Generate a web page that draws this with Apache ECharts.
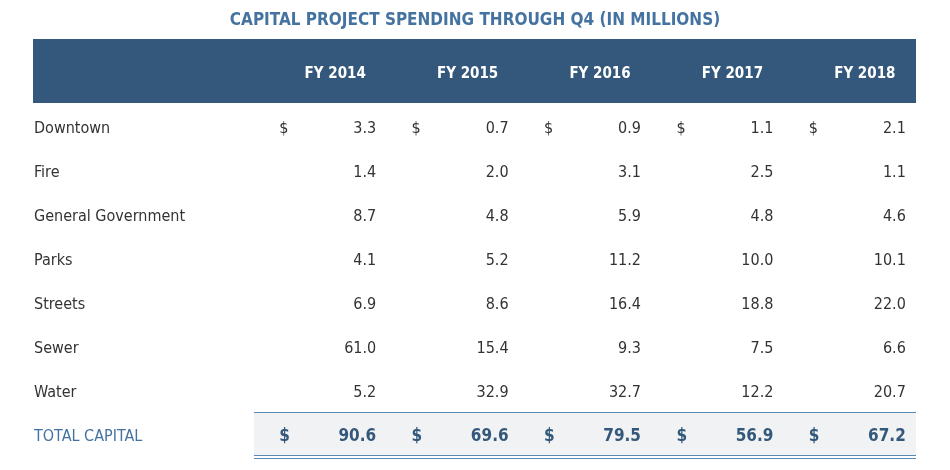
<!DOCTYPE html>
<html>
<head>
<meta charset="utf-8">
<script src="https://cdn.jsdelivr.net/npm/echarts@6/dist/echarts.min.js"></script>
<style>
html,body{margin:0;padding:0;background:#fff;}
#chart{width:950px;height:470px;}
</style>
</head>
<body>
<div id="chart"></div>
<script>
// ---- data ----
const years = ['FY 2014', 'FY 2015', 'FY 2016', 'FY 2017', 'FY 2018'];
const rowNames = ['Downtown', 'Fire', 'General Government', 'Parks', 'Streets', 'Sewer', 'Water', 'TOTAL CAPITAL'];
const downtown = [3.3, 0.7, 0.9, 1.1, 2.1];
const fire = [1.4, 2.0, 3.1, 2.5, 1.1];
const generalGovernment = [8.7, 4.8, 5.9, 4.8, 4.6];
const parks = [4.1, 5.2, 11.2, 10.0, 10.1];
const streets = [6.9, 8.6, 16.4, 18.8, 22.0];
const sewer = [61.0, 15.4, 9.3, 7.5, 6.6];
const water = [5.2, 32.9, 32.7, 12.2, 20.7];
const totalCapital = [90.6, 69.6, 79.5, 56.9, 67.2];
const dollarRows = ['Downtown', 'TOTAL CAPITAL'];

const table = [downtown, fire, generalGovernment, parks, streets, sewer, water, totalCapital];
const totalName = 'TOTAL CAPITAL';

const FONT = "'Liberation Sans Narrow', 'DejaVu Sans Condensed', 'Roboto Condensed', sans-serif";
const TEXT = '#333333';
const BLUE = '#34587b';
const BLUE_LIGHT = '#4473a1';

const chart = echarts.init(document.getElementById('chart'), null, {renderer: 'canvas'});

const totalLabel = {color: BLUE, fontWeight: 'bold', fontSize: 17};

const series = [];
years.forEach((y, i) => {
  series.push({
    type: 'scatter',
    symbolSize: 1,
    itemStyle: {color: 'rgba(0,0,0,0)', opacity: 1},
    silent: true,
    z: 5,
    data: rowNames.map((r, j) => ({
      value: [y, r, table[j][i]],
      label: r === totalName ? totalLabel : {}
    })),
    label: {
      show: true,
      position: 'inside',
      align: 'right',
      verticalAlign: 'middle',
      offset: [56, 0],
      fontFamily: FONT,
      fontSize: 16,
      color: TEXT,
      formatter: p => p.value[2].toFixed(1)
    }
  });
});
// dollar signs
series.push({
  type: 'scatter',
  symbolSize: 1,
  itemStyle: {color: 'rgba(0,0,0,0)', opacity: 1},
  silent: true,
  z: 5,
  data: years.flatMap(y => dollarRows.map(r => ({
    value: [y, r],
    label: r === totalName ? totalLabel : {}
  }))),
  label: {
    show: true,
    position: 'inside',
    align: 'left',
    verticalAlign: 'middle',
    offset: [-41, 0],
    fontFamily: FONT,
    fontSize: 16,
    color: TEXT,
    formatter: '$'
  }
});

const option = {
  animation: false,
  backgroundColor: '#ffffff',
  title: {
    text: 'CAPITAL PROJECT SPENDING THROUGH Q4 (IN MILLIONS)',
    left: 'center',
    top: 7,
    textStyle: {fontFamily: FONT, fontSize: 17, fontWeight: 'bold', color: BLUE_LIGHT}
  },
  graphic: [
    {type: 'rect', shape: {x: 33, y: 39, width: 883, height: 64}, style: {fill: '#34587b'}, z: -10},
    {type: 'rect', shape: {x: 254, y: 412, width: 662, height: 43}, style: {fill: '#f1f2f3'}, z: -10},
    {type: 'line', shape: {x1: 254, y1: 412.5, x2: 916, y2: 412.5}, style: {stroke: '#5b87b4', lineWidth: 1}, z: -5},
    {type: 'line', shape: {x1: 254, y1: 455.5, x2: 916, y2: 455.5}, style: {stroke: '#5b87b4', lineWidth: 1}, z: -5},
    {type: 'line', shape: {x1: 254, y1: 458.5, x2: 916, y2: 458.5}, style: {stroke: '#5b87b4', lineWidth: 1}, z: -5}
  ],
  grid: {left: 254, right: 34, top: 107, bottom: 11},
  xAxis: {
    type: 'category',
    data: years,
    position: 'top',
    axisLine: {show: false},
    axisTick: {show: false},
    splitLine: {show: false},
    axisLabel: {
      margin: 33,
      verticalAlign: 'middle',
      padding: [0, 0, 0, 30],
      color: '#ffffff',
      fontFamily: FONT,
      fontWeight: 'bold',
      fontSize: 15
    }
  },
  yAxis: {
    type: 'category',
    data: rowNames,
    inverse: true,
    axisLine: {show: false},
    axisTick: {show: false},
    splitLine: {show: false},
    axisLabel: {
      margin: 220,
      align: 'left',
      fontFamily: FONT,
      fontSize: 16,
      color: TEXT,
      formatter: v => v === totalName ? '{t|' + v + '}' : v,
      rich: {t: {color: BLUE_LIGHT, fontFamily: FONT, fontSize: 16}}
    }
  },
  series: series
};
chart.setOption(option);
</script>
</body>
</html>
